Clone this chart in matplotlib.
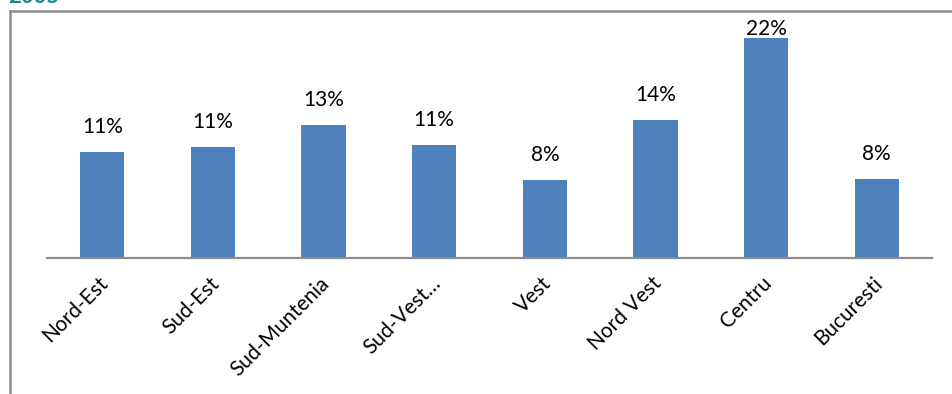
import numpy as np
import matplotlib
matplotlib.use("Agg")
import matplotlib.pyplot as plt
from matplotlib.lines import Line2D
from matplotlib.transforms import ScaledTranslation

regions = ["Nord-Est", "Sud-Est", "Sud-Muntenia", "Sud-Vest\u2026", "Vest",
           "Nord Vest", "Centru", "Bucuresti"]
shares = [10.6, 11.1, 13.3, 11.3, 7.8, 13.8, 22.0, 7.9]
year = "2005"

W, H = 952, 394
fig = plt.figure(figsize=(W / 100, H / 100), dpi=100)
plt.rcParams['font.family'] = ['Lato', 'DejaVu Sans']

# plot area in pixels: left, right, top, baseline
x0, x1, ytop, ybase = 47, 932, 18, 258
ax = fig.add_axes([x0 / W, 1 - ybase / H, (x1 - x0) / W, (ybase - ytop) / H])

x = np.arange(len(regions))
ax.bar(x, shares, width=0.4, color="#4F81BD", zorder=2)
ax.set_xlim(-0.5, len(regions) - 0.5)
ax.set_ylim(0, 24)

for xi, v in zip(x, shares):
    ly = min(v + 2.5, 22.9)
    ax.text(xi, ly, "{:.0f}%".format(v), ha="center", va="center",
            fontsize=15, color="black")

for s in ["top", "right", "left"]:
    ax.spines[s].set_visible(False)
ax.spines["bottom"].set_color("#8c8c8c")
ax.spines["bottom"].set_linewidth(1.6)
ax.set_yticks([])
ax.set_xticks(x)
ax.set_xticklabels(regions, rotation=45, ha="right", va="center",
                   rotation_mode="anchor", fontsize=15)
ax.tick_params(axis="x", length=0, pad=16)
shift = ScaledTranslation(3 / 100, 0, fig.dpi_scale_trans)
for t in ax.get_xticklabels():
    t.set_transform(t.get_transform() + shift)

# outer chart frame
fig.add_artist(Line2D([10 / W, 10 / W], [0, 1 - 11 / H], transform=fig.transFigure,
                      color="#8c8c8c", lw=1.8))
fig.add_artist(Line2D([10 / W, 1], [1 - 11 / H, 1 - 11 / H], transform=fig.transFigure,
                      color="#8c8c8c", lw=1.8))

fig.text(8 / W, 1 - 3 / H, year, ha="left", va="baseline", fontsize=16,
         fontweight="bold", color="#16898a")

fig.savefig("out.png", dpi=100)
